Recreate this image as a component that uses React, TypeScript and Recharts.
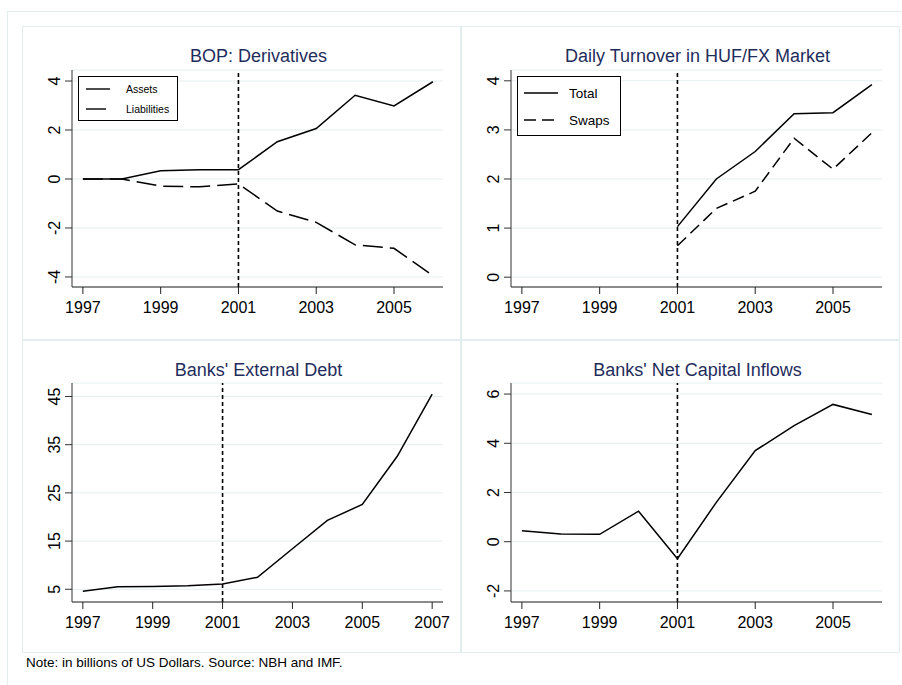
import React from 'react'
import {
  LineChart,
  Line,
  XAxis,
  YAxis,
  CartesianGrid,
  ReferenceLine,
  Legend,
} from 'recharts'

const FONT = '"Liberation Sans", Arial, Helvetica, sans-serif'
const TITLE_COLOR = '#1f2d5c'
const GRID = '#e6eef0'
const FRAME = '#e4eded'

// BOP: Derivatives
const bopYears = [1997, 1998, 1999, 2000, 2001, 2002, 2003, 2004, 2005, 2006]
const bopAssets = [0, 0, 0.34, 0.38, 0.38, 1.52, 2.06, 3.42, 2.98, 3.97]
const bopLiabilities = [0, 0, -0.29, -0.32, -0.2, -1.31, -1.77, -2.69, -2.83, -3.95]

// Daily Turnover in HUF/FX Market
const fxYears = [2001, 2002, 2003, 2004, 2005, 2006]
const fxTotal = [1.03, 2.0, 2.56, 3.33, 3.35, 3.92]
const fxSwaps = [0.64, 1.4, 1.75, 2.83, 2.2, 2.94]

// Banks' External Debt
const debtYears = [1997, 1998, 1999, 2000, 2001, 2002, 2003, 2004, 2005, 2006, 2007]
const debtValues = [4.6, 5.5, 5.6, 5.75, 6.1, 7.5, 13.4, 19.3, 22.6, 32.6, 45.5]

// Banks' Net Capital Inflows
const flowYears = [1997, 1998, 1999, 2000, 2001, 2002, 2003, 2004, 2005, 2006]
const flowValues = [0.45, 0.31, 0.3, 1.24, -0.69, 1.6, 3.7, 4.72, 5.58, 5.17]

const ticksOdd = [1997, 1999, 2001, 2003, 2005]
const ticksOdd07 = [1997, 1999, 2001, 2003, 2005, 2007]

const bopData = bopYears.map((year, i) => ({
  year,
  Assets: bopAssets[i],
  Liabilities: bopLiabilities[i],
}))
const fxData = fxYears.map((year, i) => ({ year, Total: fxTotal[i], Swaps: fxSwaps[i] }))
const debtData = debtYears.map((year, i) => ({ year, debt: debtValues[i] }))
const flowData = flowYears.map((year, i) => ({ year, flows: flowValues[i] }))

const YTick = (props: any) => {
  const { x, y, payload } = props
  return (
    <text
      x={x}
      y={y}
      transform={`rotate(-90 ${x} ${y})`}
      textAnchor="middle"
      fontSize={16}
      fontFamily={FONT}
      fill="#000"
    >
      {payload.value}
    </text>
  )
}

type LegendItem = { name: string; dash?: string }

const makeLegend =
  (items: LegendItem[], w: number, h: number, lineX: [number, number], rows: number[], textX: number, fs: number) =>
  () =>
    (
      <svg width={w} height={h} style={{ display: 'block' }}>
        <rect x={0.5} y={0.5} width={w - 1} height={h - 1} fill="#fff" stroke="#000" strokeWidth={1} />
        {items.map((it, i) => (
          <g key={it.name}>
            <line
              x1={lineX[0]}
              x2={lineX[1]}
              y1={rows[i]}
              y2={rows[i]}
              stroke="#000"
              strokeWidth={1.4}
              strokeDasharray={it.dash}
            />
            <text x={textX} y={rows[i] + fs * 0.36} fontSize={fs} fontFamily={FONT} fill="#000">
              {it.name}
            </text>
          </g>
        ))}
      </svg>
    )

const Panel: React.FC<{
  left: number
  top: number
  height: number
  title: string
  children: React.ReactNode
}> = ({ left, top, height, title, children }) => (
  <div
    style={{
      position: 'absolute',
      left,
      top,
      width: 439,
      height,
      border: `1px solid ${FRAME}`,
      boxSizing: 'border-box',
      background: '#fff',
    }}
  >
    <div
      style={{
        position: 'absolute',
        left: 50,
        width: 371,
        top: 20,
        textAlign: 'center',
        fontFamily: FONT,
        fontSize: 18,
        lineHeight: '18px',
        color: TITLE_COLOR,
        whiteSpace: 'nowrap',
      }}
    >
      {title}
    </div>
    <div style={{ position: 'absolute', left: -1, top: -1 }}>{children}</div>
  </div>
)

const xProps = {
  dataKey: 'year',
  type: 'number' as const,
  allowDataOverflow: true,
  interval: 0 as const,
  tickSize: 7,
  tickMargin: 8,
  height: 30,
  stroke: '#222',
  tick: { fontSize: 16, fill: '#000', fontFamily: FONT },
}

const yProps = {
  allowDataOverflow: true,
  interval: 0 as const,
  tickSize: 7,
  tickMargin: 5,
  width: 50,
  stroke: '#333',
  tick: <YTick />,
}

const lineStyle = {
  type: 'linear' as const,
  stroke: '#000',
  strokeWidth: 1.5,
  dot: false,
  activeDot: false,
  isAnimationActive: false,
}

const vline = <ReferenceLine x={2001} stroke="#000" strokeWidth={1.6} strokeDasharray="4 3" />

export default function App() {
  return (
    <div
      style={{
        position: 'absolute',
        left: 0,
        top: 0,
        width: 902,
        height: 685,
        overflow: 'hidden',
        background: '#fff',
      }}
    >
      <div
        style={{
          position: 'absolute',
          left: 7,
          top: 11,
          width: 1000,
          height: 1000,
          border: `1px solid ${FRAME}`,
        }}
      />

      <Panel left={22} top={26} height={314} title="BOP: Derivatives">
        <LineChart width={439} height={314} data={bopData} margin={{ top: 44, right: 18, left: 0, bottom: 23 }}>
          <CartesianGrid vertical={false} stroke={GRID} />
          <XAxis {...xProps} domain={[1996.72, 2006.26]} ticks={ticksOdd} />
          <YAxis {...yProps} domain={[-4.41, 4.45]} ticks={[-4, -2, 0, 2, 4]} />
          {vline}
          <Legend
            layout="vertical"
            align="center"
            verticalAlign="middle"
            wrapperStyle={{ left: 56, top: 50, width: 100, height: 45 }}
            content={makeLegend(
              [{ name: 'Assets' }, { name: 'Liabilities', dash: '20 7' }],
              100,
              45,
              [8, 32],
              [13, 33],
              48,
              10.5
            )}
          />
          <Line {...lineStyle} dataKey="Assets" />
          <Line {...lineStyle} dataKey="Liabilities" strokeDasharray="20 7" />
        </LineChart>
      </Panel>

      <Panel left={461} top={26} height={314} title="Daily Turnover in HUF/FX Market">
        <LineChart width={439} height={314} data={fxData} margin={{ top: 44, right: 18, left: 0, bottom: 23 }}>
          <CartesianGrid vertical={false} stroke={GRID} />
          <XAxis {...xProps} domain={[1996.72, 2006.26]} ticks={ticksOdd} />
          <YAxis {...yProps} domain={[-0.2, 4.22]} ticks={[0, 1, 2, 3, 4]} />
          {vline}
          <Legend
            layout="vertical"
            align="center"
            verticalAlign="middle"
            wrapperStyle={{ left: 56, top: 50, width: 104, height: 60 }}
            content={makeLegend(
              [{ name: 'Total' }, { name: 'Swaps', dash: '12 6' }],
              104,
              60,
              [7, 41],
              [17, 44],
              52,
              13.5
            )}
          />
          <Line {...lineStyle} dataKey="Total" />
          <Line {...lineStyle} dataKey="Swaps" strokeDasharray="12 6" />
        </LineChart>
      </Panel>

      <Panel left={22} top={340} height={313} title="Banks' External Debt">
        <LineChart width={439} height={313} data={debtData} margin={{ top: 43, right: 18, left: 0, bottom: 21 }}>
          <CartesianGrid vertical={false} stroke={GRID} />
          <XAxis {...xProps} domain={[1996.69, 2007.31]} ticks={ticksOdd07} />
          <YAxis {...yProps} domain={[2.36, 47.8]} ticks={[5, 15, 25, 35, 45]} />
          {vline}
          <Line {...lineStyle} dataKey="debt" />
        </LineChart>
      </Panel>

      <Panel left={461} top={340} height={313} title="Banks' Net Capital Inflows">
        <LineChart width={439} height={313} data={flowData} margin={{ top: 43, right: 18, left: 0, bottom: 21 }}>
          <CartesianGrid vertical={false} stroke={GRID} />
          <XAxis {...xProps} domain={[1996.72, 2006.26]} ticks={ticksOdd} />
          <YAxis {...yProps} domain={[-2.45, 6.45]} ticks={[-2, 0, 2, 4, 6]} />
          {vline}
          <Line {...lineStyle} dataKey="flows" />
        </LineChart>
      </Panel>

      <div
        style={{
          position: 'absolute',
          left: 26,
          top: 656,
          fontFamily: FONT,
          fontSize: 13.5,
          lineHeight: '13.5px',
          color: '#000',
          whiteSpace: 'nowrap',
        }}
      >
        Note: in billions of US Dollars. Source: NBH and IMF.
      </div>
    </div>
  )
}
